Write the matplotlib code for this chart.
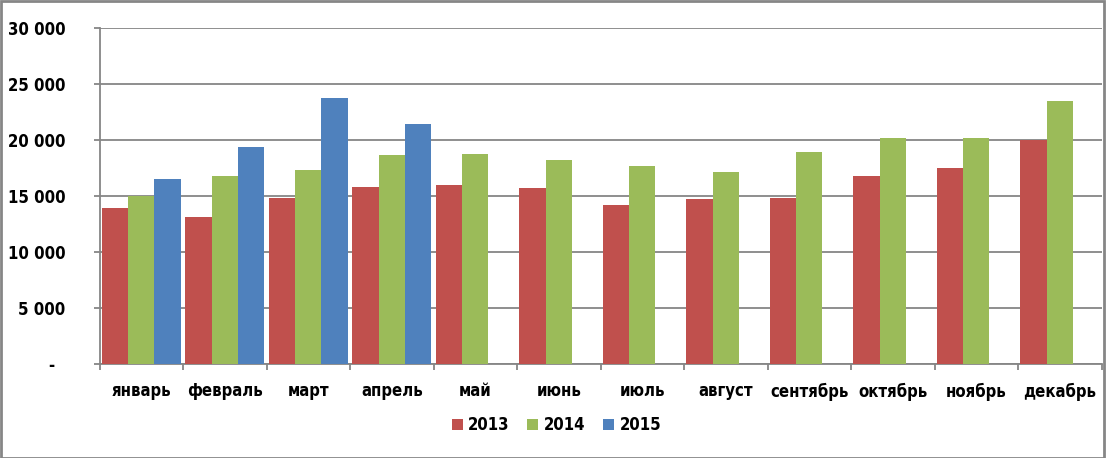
import matplotlib
matplotlib.use("Agg")
import matplotlib.pyplot as plt
import numpy as np
from matplotlib.patches import Rectangle
from matplotlib.ticker import FuncFormatter, FixedLocator

months = ["январь", "февраль", "март", "апрель", "май", "июнь", "июль",
          "август", "сентябрь", "октябрь", "ноябрь", "декабрь"]
years = ["2013", "2014", "2015"]
v2013 = [13950, 13150, 14850, 15850, 16000, 15750, 14200, 14750, 14850, 16800, 17500, 20000]
v2014 = [15000, 16800, 17350, 18700, 18750, 18250, 17700, 17150, 18950, 20200, 20200, 23500]
v2015 = [16550, 19400, 23800, 21450, np.nan, np.nan, np.nan, np.nan, np.nan, np.nan, np.nan, np.nan]
colors = ["#C0504D", "#9BBB59", "#4F81BD"]
yticks = [0, 5000, 10000, 15000, 20000, 25000, 30000]

plt.rcParams['font.family'] = ['DejaVu Sans']
plt.rcParams['font.stretch'] = 'condensed'
plt.rcParams['font.weight'] = 'bold'

W, H = 1106, 458
fig = plt.figure(figsize=(W / 100, H / 100), dpi=100)
ax = fig.add_axes([99.5 / W, (H - 364.3) / H, (1101.5 - 99.5) / W, (364.3 - 28.3) / H])

x = np.arange(len(months))
w = 0.315
series = [v2013, v2014, v2015]
for k, (vals, c, lab) in enumerate(zip(series, colors, years)):
    ax.bar(x + (k - 1) * w, vals, width=w, color=c, label=lab, linewidth=0, zorder=3)

grid_c = "#868686"
fs = 12
ax.set_xlim(-0.5, len(months) - 0.5)
ax.set_ylim(0, 30000)
ax.set_yticks(yticks)
ax.yaxis.set_major_formatter(FuncFormatter(
    lambda v, p: "-  " if v == 0 else f"{int(v):,}".replace(",", " ")))
ax.grid(axis="y", color=grid_c, linewidth=1.3, zorder=0)
ax.set_axisbelow(True)

ax.set_xticks(x)
ax.set_xticklabels(months)
ax.xaxis.set_minor_locator(FixedLocator(np.arange(-0.5, len(months), 1.0)))
ax.tick_params(axis="x", which="major", length=0, pad=13, labelsize=fs)
ax.tick_params(axis="x", which="minor", length=4.3, width=1.3, color=grid_c, direction="out")
ax.tick_params(axis="y", length=4.3, width=1.3, color=grid_c, direction="out", pad=20, labelsize=fs)

for s in ["top", "right"]:
    ax.spines[s].set_visible(False)
for s in ["left", "bottom"]:
    ax.spines[s].set_color(grid_c)
    ax.spines[s].set_linewidth(1.3)

leg = fig.legend(loc="center", bbox_to_anchor=(556.5 / W, (H - 425) / H), ncol=3,
                 frameon=False, fontsize=fs, handlelength=0.65, handleheight=0.65,
                 handletextpad=0.35, columnspacing=1.05)

fig.patches.append(Rectangle((0.5 / W, 0.5 / H), (W - 3) / W, (H - 1.5) / H,
                             transform=fig.transFigure, fill=False,
                             edgecolor=grid_c, linewidth=2))

fig.savefig("out.png", dpi=100)
